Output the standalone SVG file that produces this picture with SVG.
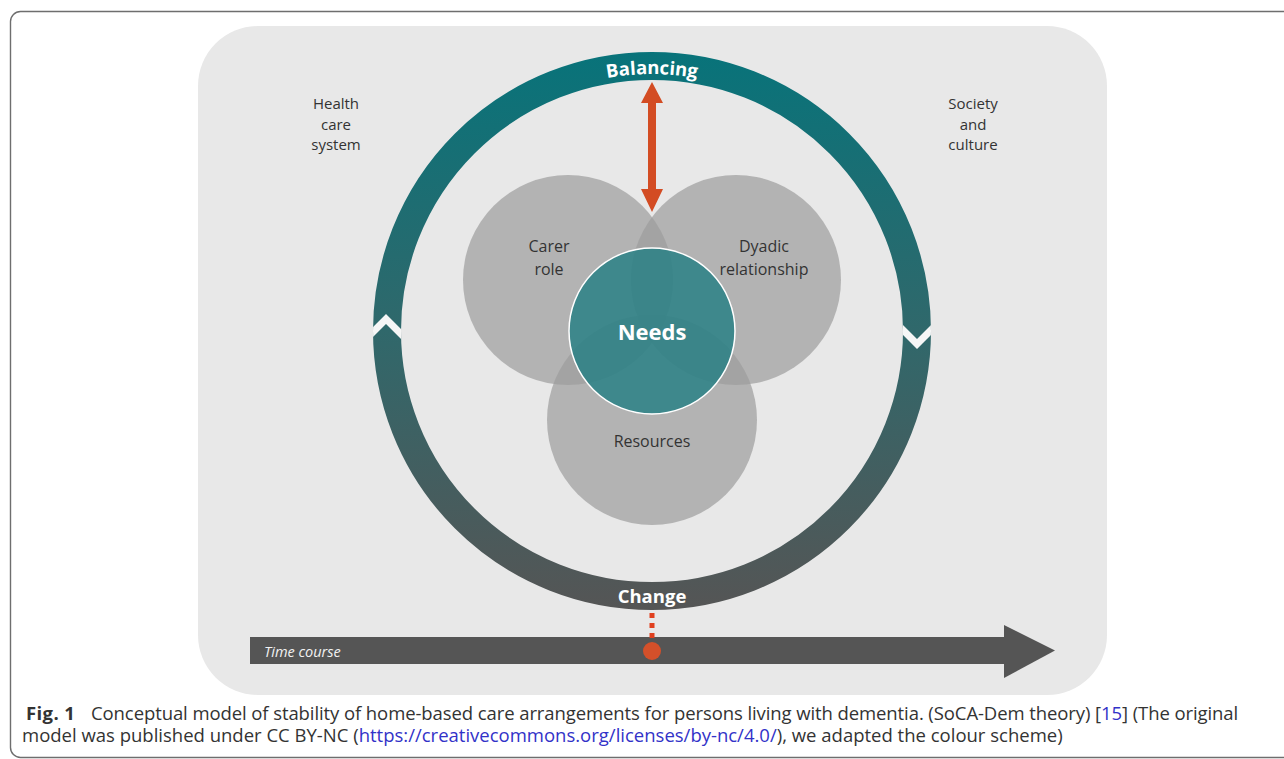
<svg xmlns="http://www.w3.org/2000/svg" width="1284" height="759" viewBox="0 0 1284 759">
<defs>
<style>
.lbl{font-family:"Open Sans","Noto Sans",sans-serif;fill:#333333;text-anchor:middle}
.ctx{font-size:15px}
.venn{font-size:16px}
.wb{font-family:"Open Sans","Noto Sans",sans-serif;font-weight:bold;fill:#ffffff;text-anchor:middle}
.grey{fill:#9c9c9c;fill-opacity:0.7}
.cap{font-family:"Open Sans","Noto Sans",sans-serif;font-size:18.5px;fill:#333333}
.link{fill:#3232c8}
</style>
<linearGradient id="ringGrad" gradientUnits="userSpaceOnUse" x1="0" y1="52" x2="0" y2="610">
<stop offset="0" stop-color="#08737a"/>
<stop offset="0.5" stop-color="#30686b"/>
<stop offset="1" stop-color="#555555"/>
</linearGradient>
<clipPath id="ringClip">
<path clip-rule="evenodd" d="M373,331 a279,279 0 1,0 558,0 a279,279 0 1,0 -558,0 Z M401,331 a251,251 0 1,0 502,0 a251,251 0 1,0 -502,0 Z"/>
</clipPath>
<path id="balArc" d="M395,331 A257,257 0 0,1 909,331"/>
</defs>
<rect x="0" y="0" width="1284" height="759" fill="#ffffff"/>
<rect x="10.5" y="11.5" width="1320" height="746" rx="10" fill="none" stroke="#6e6e6e" stroke-width="1.4"/>
<rect x="198" y="26" width="909" height="669" rx="60" fill="#e8e8e8"/>

<g id="context-left">
<text class="lbl ctx" x="336" y="109">Health</text>
<text class="lbl ctx" x="336" y="129.5">care</text>
<text class="lbl ctx" x="336" y="150">system</text>
</g>
<g id="context-right">
<text class="lbl ctx" x="973" y="109">Society</text>
<text class="lbl ctx" x="973" y="129.5">and</text>
<text class="lbl ctx" x="973" y="150">culture</text>
</g>

<g id="ring">
<circle cx="652" cy="331" r="265" fill="none" stroke="url(#ringGrad)" stroke-width="28"/>
<g clip-path="url(#ringClip)" fill="none" stroke="#f6f6f6" stroke-width="7" stroke-linejoin="miter">
<polyline points="364,341 386,319 408,341"/>
<polyline points="895,322 917,344 939,322"/>
</g>
<text class="wb" font-size="18.5"><textPath href="#balArc" startOffset="50%">Balancing</textPath></text>
<text class="wb" font-size="18.5" x="652" y="603">Change</text>
</g>

<g id="carer-role">
<circle class="grey" cx="568" cy="280" r="105"/>
</g>
<g id="dyadic-relationship">
<circle class="grey" cx="736" cy="280" r="105"/>
</g>
<g id="resources">
<circle class="grey" cx="652" cy="420" r="105"/>
</g>
<g id="needs">
<circle cx="652" cy="331" r="83" fill="#217d82" fill-opacity="0.8" stroke="#ffffff" stroke-width="1.5"/>
<text class="wb" font-size="22" x="652" y="340">Needs</text>
</g>
<g id="venn-labels">
<text class="lbl venn" x="549" y="252">Carer</text>
<text class="lbl venn" x="549" y="275">role</text>
<text class="lbl venn" x="764" y="252">Dyadic</text>
<text class="lbl venn" x="764" y="275">relationship</text>
<text class="lbl venn" x="652" y="447">Resources</text>
</g>

<g id="time-course">
<rect x="250" y="637" width="756" height="27" fill="#555555"/>
<polygon points="1004,625 1055,650.5 1004,678" fill="#555555"/>
<text x="264" y="657" font-family="'Open Sans','Noto Sans',sans-serif" font-style="italic" font-size="14.5" fill="#f2f2f2">Time course</text>
</g>

<g id="connectors">
<polygon points="652,82 663,103 656,103 656,189 663,189 652,212 641,189 648,189 648,103 641,103" fill="#d34c23"/>
<line x1="652" y1="613" x2="652" y2="640" stroke="#e0401f" stroke-width="5" stroke-dasharray="5 5"/>
<circle cx="652" cy="651" r="9" fill="#d4502a"/>
</g>

<g id="caption">
<text class="cap" x="26" y="719.5" font-weight="bold" letter-spacing="0.4">Fig. 1</text>
<text class="cap" x="91" y="719.5" letter-spacing="-0.09">Conceptual model of stability of home-based care arrangements for persons living with dementia. (SoCA-Dem theory) [<tspan class="link">15</tspan>] (The original</text>
<text class="cap" x="22" y="742">model was published under CC BY-NC (<tspan class="link">https://creativecommons.org/licenses/by-nc/4.0/</tspan>), we adapted the colour scheme)</text>
</g>
</svg>
